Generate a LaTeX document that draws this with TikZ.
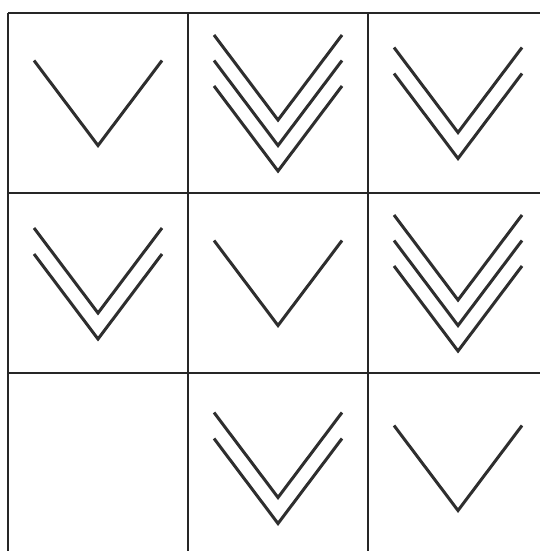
\documentclass[tikz,border=0pt]{standalone}
\begin{document}
\begin{tikzpicture}[x=1pt,y=-1pt,
  gridline/.style={line width=2.2pt,draw=black!85},
  chevline/.style={line width=3pt,draw=black!82,line join=miter},
  chev/.pic={\draw[chevline] (-64,0) -- (0,85) -- (64,0);}]
\useasboundingbox[fill=white] (0,0) rectangle (540,551);
% grid
\foreach \x in {8,188,368} \draw[gridline] (\x,13) -- (\x,551);
\foreach \y in {13,193,373} \draw[gridline] (8,\y) -- (540,\y);
% row 1
\pic at (98,60.5) {chev};
\foreach \t in {35,60.5,86} \pic at (278,\t) {chev};
\foreach \t in {47.5,73.5} \pic at (458,\t) {chev};
% row 2
\foreach \t in {228,254} \pic at (98,\t) {chev};
\pic at (278,240.5) {chev};
\foreach \t in {215,240.5,266} \pic at (458,\t) {chev};
% row 3
\foreach \t in {412.5,438.5} \pic at (278,\t) {chev};
\pic at (458,425.5) {chev};
\end{tikzpicture}
\end{document}
